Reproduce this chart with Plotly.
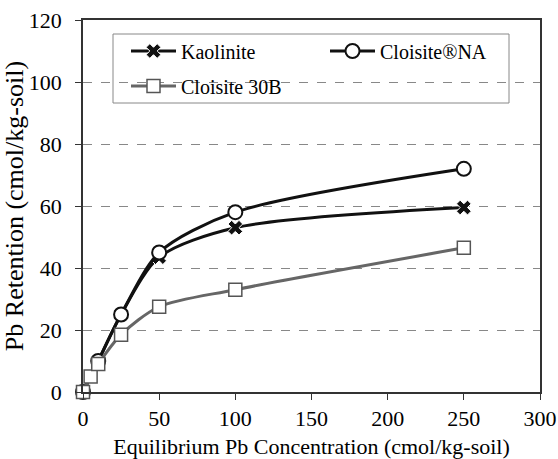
import plotly.graph_objects as go

x_kaol = [0, 10, 25, 50, 100, 250]
y_kaol = [0, 10, 25, 43.5, 53, 59.5]
x_na = [0, 10, 25, 50, 100, 250]
y_na = [0, 10, 25, 45, 58, 72]
x_30b = [0, 5, 10, 25, 50, 100, 250]
y_30b = [0, 5, 9, 18.5, 27.5, 33, 46.5]

W, H = 558, 459
L, R, T, B = 83, 18, 20, 67
pw, ph = W - L - R, H - T - B

def px(xp):
    return (xp - L) / pw

def py(yp):
    return (H - B - yp) / ph

SERIF = "Liberation Serif, Times New Roman, serif"

fig = go.Figure()
fig.add_trace(go.Scatter(x=x_kaol, y=y_kaol, name="Kaolinite", mode="lines+markers",
                         legend="legend",
                         line=dict(color="#111111", width=3, shape="spline", smoothing=0.8),
                         marker=dict(symbol="x", size=13, color="#111111",
                                     line=dict(color="white", width=1))))
fig.add_trace(go.Scatter(x=x_na, y=y_na, name="Cloisite®NA", mode="lines+markers",
                         legend="legend2",
                         line=dict(color="#111111", width=3, shape="spline", smoothing=0.8),
                         marker=dict(symbol="circle", size=14, color="white",
                                     line=dict(color="#111111", width=2))))
fig.add_trace(go.Scatter(x=x_30b, y=y_30b, name="Cloisite 30B", mode="lines+markers",
                         legend="legend3",
                         line=dict(color="#666666", width=3, shape="spline", smoothing=0.8),
                         marker=dict(symbol="square", size=13, color="white",
                                     line=dict(color="#555555", width=1.5))))

leg_font = dict(family=SERIF, size=20, color="black")
common = dict(xanchor="left", yanchor="middle", bgcolor="rgba(0,0,0,0)",
              borderwidth=0, font=leg_font, itemwidth=45)

fig.update_layout(
    width=W, height=H,
    paper_bgcolor="white", plot_bgcolor="white",
    margin=dict(l=L, r=R, t=T, b=B),
    showlegend=True,
    legend=dict(x=px(126), y=py(51), **common),
    legend2=dict(x=px(325), y=py(51), **common),
    legend3=dict(x=px(126), y=py(86), **common),
    font=dict(family=SERIF, color="black"),
    shapes=[dict(type="rect", xref="paper", yref="paper",
                 x0=px(113), x1=px(509), y0=py(103), y1=py(34),
                 line=dict(color="#888888", width=1), fillcolor="white", layer="below")],
)
fig.update_xaxes(range=[0, 300], dtick=50, showgrid=False, zeroline=False,
                 showline=True, linecolor="#333333", linewidth=1.5, mirror=True,
                 ticks="outside", ticklen=6, tickcolor="#333333", automargin=False,
                 tickfont=dict(size=22, family=SERIF),
                 title=dict(text="Equilibrium Pb Concentration (cmol/kg-soil)",
                            font=dict(size=22, family=SERIF), standoff=8))
fig.update_yaxes(range=[0, 120], dtick=20, showgrid=True, gridcolor="#888888",
                 griddash="dash", gridwidth=1, zeroline=False,
                 showline=True, linecolor="#333333", linewidth=1.5, mirror=True,
                 ticks="outside", ticklen=6, tickcolor="#333333", automargin=False,
                 ticklabelstandoff=9,
                 tickfont=dict(size=22, family=SERIF),
                 title=dict(text="Pb Retention (cmol/kg-soil)",
                            font=dict(size=26, family=SERIF), standoff=4))
fig.update_traces(cliponaxis=False)
fig.write_html("out.html", config={"displayModeBar": False},
               post_script="document.body.style.margin='0';document.body.style.padding='0';")
